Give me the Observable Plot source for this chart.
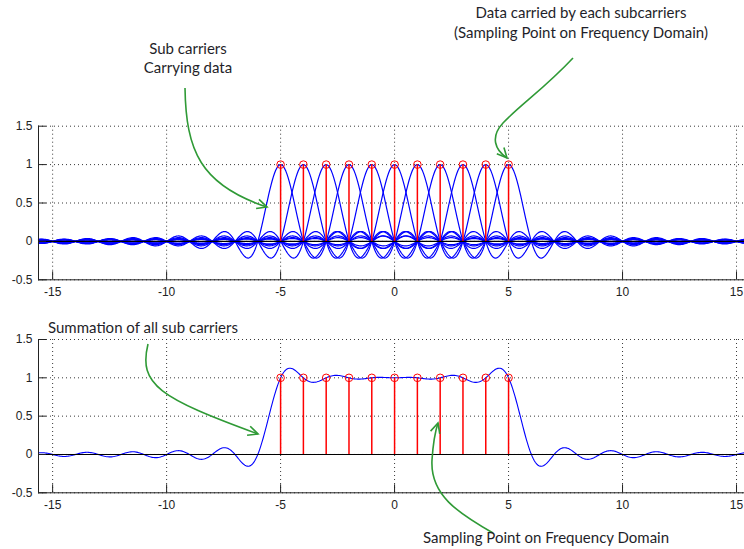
<!DOCTYPE html>
<html><head><meta charset="utf-8">
<script src="https://cdn.jsdelivr.net/npm/d3@7"></script>
<script src="https://cdn.jsdelivr.net/npm/@observablehq/plot@0.6"></script>
<style>
html,body{margin:0;padding:0;background:#fff;}
#wrap{position:relative;width:744px;height:549px;overflow:hidden;background:#fff;}
#wrap > svg{position:absolute;left:0;}
</style></head><body><div id="wrap"></div>
<script>
// ---- data ----
const centers = [-5, -4, -3, -2, -1, 0, 1, 2, 3, 4, 5];      // subcarrier positions
const amplitudes = [1, 1, 1, 1, 1, 1, 1, 1, 1, 1, 1];         // data carried by each subcarrier
const xTicks = [-15, -10, -5, 0, 5, 10, 15];
const yTicks = [-0.5, 0, 0.5, 1, 1.5];
const xDomain = [-15.62, 15.35];
const yDomain = [-0.5, 1.5];
const sampleStep = 0.05;

const sinc = t => t === 0 ? 1 : Math.sin(Math.PI * t) / (Math.PI * t);
const xs = d3.range(xDomain[0], xDomain[1] + sampleStep / 2, sampleStep);
const carrierRows = centers.flatMap((c, i) => xs.map(x => ({x, y: amplitudes[i] * sinc(x - c), c})));
const sumRows = xs.map(x => ({x, y: d3.sum(centers, (c, i) => amplitudes[i] * sinc(x - c))}));
const stems = centers.map((c, i) => ({x: c, y: amplitudes[i]}));

function panel({height, marginTop, marginBottom, curves}) {
  const W = 744, ml = 38, mr = 0;
  const pxX = (W - ml - mr) / (xDomain[1] - xDomain[0]);
  const pxY = (height - marginTop - marginBottom) / (yDomain[1] - yDomain[0]);
  const tickLen = 8;
  return Plot.plot({
    width: W, height, marginLeft: ml, marginRight: mr, marginTop, marginBottom,
    x: {domain: xDomain, label: null}, y: {domain: yDomain, label: null},
    style: {fontFamily: "'Liberation Sans', Arial, sans-serif", fontSize: "12px", color: "#222", background: "transparent", overflow: "visible"},
    marks: [
      Plot.gridX(xTicks, {stroke: "#222", strokeOpacity: 0.9, strokeDasharray: "1,3"}),
      Plot.gridY(yTicks, {stroke: "#222", strokeOpacity: 0.9, strokeDasharray: "1,3"}),
      ...curves,
      Plot.ruleY([0], {stroke: "#000", strokeWidth: 1.2}),
      Plot.ruleX(stems, {x: "x", y1: 0, y2: "y", stroke: "#ff0000", strokeWidth: 1.5}),
      Plot.dot(stems, {x: "x", y: "y", r: 3.8, stroke: "#ff0000", strokeWidth: 1}),
      Plot.ruleX([xDomain[0]], {stroke: "#222"}),
      Plot.ruleY([yDomain[0]], {stroke: "#222"}),
      Plot.ruleY(yTicks, {x1: xDomain[0], x2: xDomain[0] + tickLen / pxX, stroke: "#222"}),
      Plot.ruleX(xTicks, {y1: yDomain[0], y2: yDomain[0] + tickLen / pxY, stroke: "#222"}),
      Plot.axisX(xTicks, {tickSize: 0, tickPadding: 8, label: null, tickFormat: d => String(d)}),
      Plot.axisY(yTicks, {tickSize: 0, tickPadding: 6, label: null, tickFormat: d => String(d)})
    ]
  });
}

const wrap = document.getElementById("wrap");
const topPlot = panel({height: 305, marginTop: 125.7, marginBottom: 25.7,
  curves: [Plot.line(carrierRows, {x: "x", y: "y", z: "c", stroke: "#0000ff", strokeWidth: 1.2})]});
topPlot.style.top = "0px";
wrap.appendChild(topPlot);

const botPlot = panel({height: 244, marginTop: 34, marginBottom: 56.7,
  curves: [Plot.line(sumRows, {x: "x", y: "y", stroke: "#0000ff", strokeWidth: 1.1})]});
botPlot.style.top = "305px";
wrap.appendChild(botPlot);

// ---- annotations ----
const ov = d3.select(wrap).append("svg")
  .attr("width", 744).attr("height", 549).style("top", "0px").style("pointer-events", "none");
const green = "#2f9a36";
const arrows = [
  {d: "M185,88 C186,150 200,185 267,207", tip: [267, 207], from: [245, 200]},
  {d: "M573,58 C545,88 520,105 503,123 C490,137 495,150 507,158", tip: [507, 158], from: [498, 148]},
  {d: "M148,344 C138,385 160,398 258,434", tip: [258, 434], from: [235, 426]},
  {d: "M493,533 C458,513 430,495 432,460 C433,445 435,432 438,423", tip: [438, 423], from: [435, 433]}
];
arrows.forEach(a => {
  ov.append("path").attr("d", a.d).attr("fill", "none").attr("stroke", green).attr("stroke-width", 1.6);
  const dx = a.tip[0] - a.from[0], dy = a.tip[1] - a.from[1];
  const ang = Math.atan2(dy, dx), L = 11, spread = 0.45;
  const p1 = [a.tip[0] - L * Math.cos(ang - spread), a.tip[1] - L * Math.sin(ang - spread)];
  const p2 = [a.tip[0] - L * Math.cos(ang + spread), a.tip[1] - L * Math.sin(ang + spread)];
  ov.append("path").attr("d", `M${p1}L${a.tip}L${p2}`).attr("fill", "none")
    .attr("stroke", green).attr("stroke-width", 1.6);
});
const labels = [
  {t: "Data carried by each subcarriers", x: 581, y: 18, a: "middle"},
  {t: "(Sampling Point on Frequency Domain)", x: 581, y: 38, a: "middle"},
  {t: "Sub carriers", x: 188, y: 54, a: "middle"},
  {t: "Carrying data", x: 188, y: 73, a: "middle"},
  {t: "Summation of all sub carriers", x: 48, y: 333, a: "start"},
  {t: "Sampling Point on Frequency Domain", x: 546, y: 543, a: "middle"}
];
labels.forEach(l => ov.append("text").text(l.t).attr("x", l.x).attr("y", l.y)
  .attr("text-anchor", l.a).attr("font-family", "Lato, 'Open Sans', sans-serif")
  .attr("font-size", 15).attr("fill", "#1f1f2a"));
</script></body></html>
